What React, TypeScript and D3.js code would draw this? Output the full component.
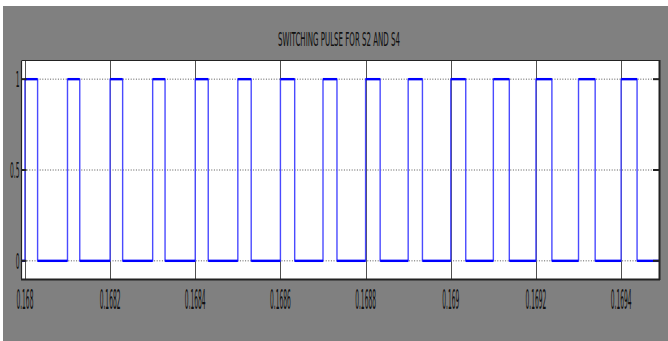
import React from "react";
import * as d3 from "d3";

const title = "SWITCHING PULSE FOR S2 AND S4";
const xTicks = [0.168, 0.1682, 0.1684, 0.1686, 0.1688, 0.169, 0.1692, 0.1694];
const xTickLabels = ["0.168", "0.1682", "0.1684", "0.1686", "0.1688", "0.169", "0.1692", "0.1694"];
const yTicks = [0, 0.5, 1];
const yTickLabels = ["0", "0.5", "1"];
const xDomain = [0.167992, 0.169489];
const yDomain = [-0.1, 1.1];
// pulse rising and falling instants (s)
const riseTimes = [0.168, 0.1681, 0.1682, 0.1683, 0.1684, 0.1685, 0.1686, 0.1687, 0.1688, 0.1689, 0.169, 0.1691, 0.1692, 0.1693, 0.1694];
const fallTimes = [0.1680298, 0.1681288, 0.1682295, 0.1683291, 0.1684305, 0.1685314, 0.1686335, 0.1687328, 0.1688342, 0.1689335, 0.1690352, 0.1691375, 0.1692375, 0.1693391, 0.1694375];

const W = 668, H = 341;
const L = 21.5, T = 61, R = 659, B = 279;

export default function App() {
  const x = d3.scaleLinear().domain(xDomain).range([L, R]);
  const y = d3.scaleLinear().domain(yDomain).range([B, T]);

  const pts: [number, number][] = [[xDomain[0], 0]];
  riseTimes.forEach((r, i) => {
    pts.push([r, 0], [r, 1], [fallTimes[i], 1], [fallTimes[i], 0]);
  });
  pts.push([xDomain[1], 0]);
  const line = d3.line<[number, number]>().x(d => x(d[0])).y(d => y(d[1]));

  const horiz: [number, number, number][] = [];
  let prev = xDomain[0];
  riseTimes.forEach((r, i) => {
    horiz.push([prev, r, 0]);
    horiz.push([r, fallTimes[i], 1]);
    prev = fallTimes[i];
  });
  horiz.push([prev, xDomain[1], 0]);

  const font = "'DejaVu Sans', sans-serif";

  return (
    <svg width={W} height={H} style={{ position: "absolute", left: 0, top: 0 }}>
      <rect x={0} y={0} width={W} height={H} fill="#ffffff" />
      <rect x={3} y={6} width={W - 3} height={H - 6} fill="#808080" />
      <text x={339} y={46} fontFamily={font} fontSize={20} fill="#111" textLength={122} lengthAdjust="spacingAndGlyphs" textAnchor="middle">{title}</text>
      <rect x={L} y={T} width={R - L} height={B - T} fill="#ffffff" />
      {yTicks.map(v => (
        <line key={"hg" + v} x1={L} x2={R} y1={y(v)} y2={y(v)} stroke="#555" strokeWidth={1} strokeDasharray="1,1.6" />
      ))}
      {xTicks.map(v => (
        <line key={"vg" + v} x1={Math.round(x(v)) + 0.5} x2={Math.round(x(v)) + 0.5} y1={T} y2={B} stroke="#505050" strokeWidth={1} />
      ))}
      <path d={line(pts) || ""} fill="none" stroke="#4a4aff" strokeWidth={1.4} />
      {horiz.map((h, i) => (
        <line key={"h" + i} x1={x(h[0])} x2={x(h[1])} y1={y(h[2])} y2={y(h[2])} stroke="#0000ff" strokeWidth={2.4} />
      ))}
      {yTicks.map(v => (
        <g key={"yt" + v}>
          <line x1={L} x2={L + 5} y1={y(v)} y2={y(v)} stroke="#222" strokeWidth={2} />
          <line x1={R - 6} x2={R} y1={y(v)} y2={y(v)} stroke="#222" strokeWidth={2} />
        </g>
      ))}
      <line x1={L} x2={R} y1={T - 0.5} y2={T - 0.5} stroke="#222" strokeWidth={1} />
      <line x1={L} x2={L} y1={T} y2={B} stroke="#222" strokeWidth={1.2} />
      <line x1={L - 0.5} x2={R + 1} y1={B + 0.5} y2={B + 0.5} stroke="#222" strokeWidth={2} />
      <line x1={R + 0.5} x2={R + 0.5} y1={T - 1} y2={B + 1} stroke="#222" strokeWidth={2} />
      {xTicks.map((v, i) => (
        <text key={"xl" + v} transform={`translate(${x(v)},309) scale(0.22,1)`} fontFamily={font} fontSize={27} fill="#111" textAnchor="middle">{xTickLabels[i]}</text>
      ))}
      {yTicks.map((v, i) => (
        <text key={"yl" + v} transform={`translate(19.5,${y(v) + 8}) scale(0.27,1)`} fontFamily={font} fontSize={22} fill="#111" textAnchor="end">{yTickLabels[i]}</text>
      ))}
    </svg>
  );
}
